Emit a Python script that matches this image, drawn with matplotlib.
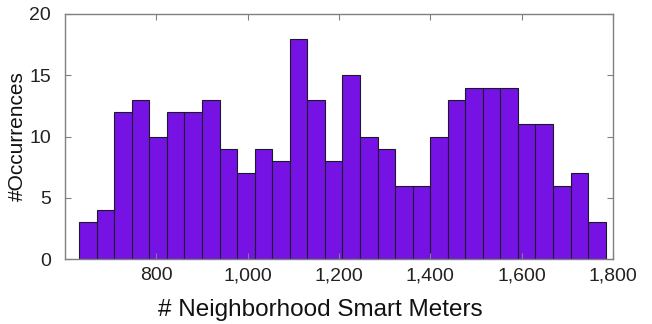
import numpy as np
import matplotlib.pyplot as plt

# Histogram counts (30 bins)
counts = [3, 4, 12, 13, 10, 12, 12, 13, 9, 7, 9, 8, 18, 13, 8,
          15, 10, 9, 6, 6, 10, 13, 14, 14, 14, 11, 11, 6, 7, 3]
bin_start = 631
bin_end = 1784
x_ticks = [800, 1000, 1200, 1400, 1600, 1800]
y_ticks = [0, 5, 10, 15, 20]

plt.rcParams['font.family'] = ['Liberation Sans', 'DejaVu Sans']

edges = np.linspace(bin_start, bin_end, len(counts) + 1)

fig = plt.figure(figsize=(6.52, 3.24), dpi=100)
ax = fig.add_axes([65 / 652, 1 - 259 / 324, (613 - 65) / 652, (259 - 14) / 324])

ax.bar(edges[:-1], counts, width=np.diff(edges), align='edge',
       color='#7712E5', edgecolor='#1a1a2a', linewidth=0.8)

ax.set_xlim(600, 1800)
ax.set_ylim(0, 20)
ax.set_xticks(x_ticks)
ax.set_xticklabels([f'{t:,}' for t in x_ticks])
ax.set_yticks(y_ticks)

ax.tick_params(direction='in', top=True, right=True, length=4,
               color='#808080', labelsize=14, labelcolor='#222222')
ax.tick_params(axis='x', pad=6)
ax.tick_params(axis='y', pad=10)
for s in ax.spines.values():
    s.set_color('#808080')
    s.set_linewidth(1.0)

ax.set_xlabel('# Neighborhood Smart Meters', fontsize=17.5, color='#111111')
ax.xaxis.set_label_coords(0.465, -0.165)
ax.set_ylabel('#Occurrences', fontsize=15, labelpad=2, color='#111111')

fig.savefig('out.png', dpi=100)
